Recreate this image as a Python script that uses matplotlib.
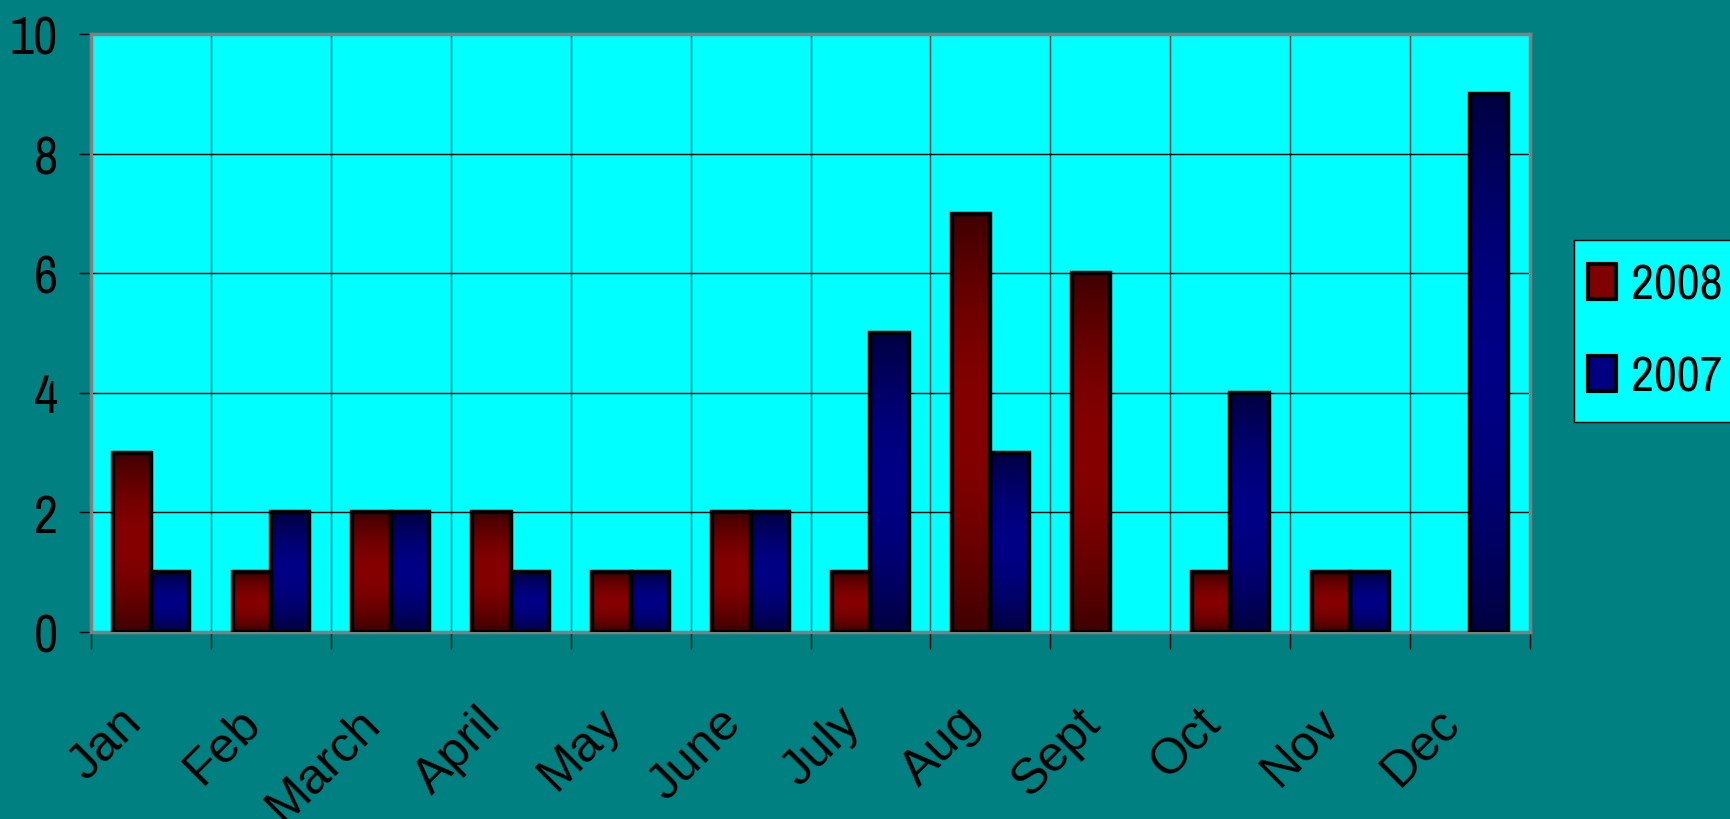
import numpy as np
import matplotlib
matplotlib.use("Agg")
import matplotlib.pyplot as plt
from matplotlib.patches import Patch, Rectangle
from matplotlib.transforms import ScaledTranslation

months = ["Jan", "Feb", "March", "April", "May", "June",
          "July", "Aug", "Sept", "Oct", "Nov", "Dec"]
vals_2008 = [3, 1, 2, 2, 1, 2, 1, 7, 6, 1, 1, 0]
vals_2007 = [1, 2, 2, 1, 1, 2, 5, 3, 0, 4, 1, 9]
yticks = [0, 2, 4, 6, 8, 10]

plt.rcParams["font.family"] = ["Liberation Sans Narrow", "Archivo Narrow",
                               "Liberation Sans", "DejaVu Sans"]

fig = plt.figure(figsize=(17.3, 8.2), dpi=100, facecolor="#008080")
ax = fig.add_axes([0.0526, 0.228, 0.8318, 0.729])
ax.set_facecolor("#00FFFF")

x = np.arange(len(months))
w = 0.32

# vertical gradient: dark at ends, bright in the middle
t = np.linspace(0, 1, 200)
shade = 0.25 + 0.27 * np.sin(np.pi * t)


def grad_img(rgb):
    img = np.zeros((len(t), 1, 3))
    for i, c in enumerate(rgb):
        img[:, 0, i] = shade * c
    return img


def gradient_bars(xs, vals, rgb):
    bars = ax.bar(xs, vals, w, facecolor="none", edgecolor="black",
                  linewidth=3.2, zorder=4)
    img = grad_img(rgb)
    for b in bars:
        if b.get_height() == 0:
            b.set_linewidth(0)
            continue
        x0, y0 = b.get_x(), b.get_y()
        im = ax.imshow(img, extent=[x0, x0 + b.get_width(), y0, y0 + b.get_height()],
                       aspect="auto", zorder=3, interpolation="bilinear")
        im.set_clip_path(b)
    return bars


gradient_bars(x - w / 2, vals_2008, (1, 0, 0))
gradient_bars(x + w / 2, vals_2007, (0, 0, 1))

ax.set_xlim(-0.5, len(months) - 0.5)
ax.set_ylim(0, 10)
ax.set_yticks(yticks)
ax.set_yticklabels([str(v) for v in yticks], fontsize=38)

ax.set_xticks(x)
ax.set_xticklabels(months, fontsize=36, rotation=45, ha="right", va="top",
                   family=["Liberation Sans", "DejaVu Sans"])
ax.set_xticks(np.arange(len(months) + 1) - 0.5, minor=True)
ax.tick_params(axis="x", which="major", length=0, pad=48)
ax.tick_params(axis="x", which="minor", length=12, width=1, color="black")
ax.tick_params(axis="y", length=9, width=1, color="black", pad=15)
off = ScaledTranslation(-1 / 100, 0, fig.dpi_scale_trans)
for lab in ax.get_xticklabels():
    lab.set_transform(lab.get_transform() + off)

ax.grid(True, axis="y", color="black", linewidth=1, zorder=1)
ax.grid(True, axis="x", which="minor", color="#004848", linewidth=1, zorder=1)
ax.set_axisbelow(True)

for s in ax.spines.values():
    s.set_color("#808080")
    s.set_linewidth(2.5)

# legend box runs off the right edge, as in the original
box = Rectangle((0.91, 0.484), 0.12, 0.222, transform=fig.transFigure,
                facecolor="#00FFFF", edgecolor="black", linewidth=1, zorder=1)
fig.add_artist(box)

handles = [Patch(facecolor="#800000", edgecolor="black", linewidth=3),
           Patch(facecolor="#000080", edgecolor="black", linewidth=3)]
leg = fig.legend(handles, ["2008", "2007"], loc="center left",
                 bbox_to_anchor=(0.918, 0.595), fontsize=36, frameon=False,
                 handlelength=0.55, handleheight=0.7,
                 handletextpad=0.3, labelspacing=0.94, borderpad=0,
                 borderaxespad=0)
leg.set_zorder(5)

fig.savefig("out.png", dpi=100, facecolor=fig.get_facecolor())
